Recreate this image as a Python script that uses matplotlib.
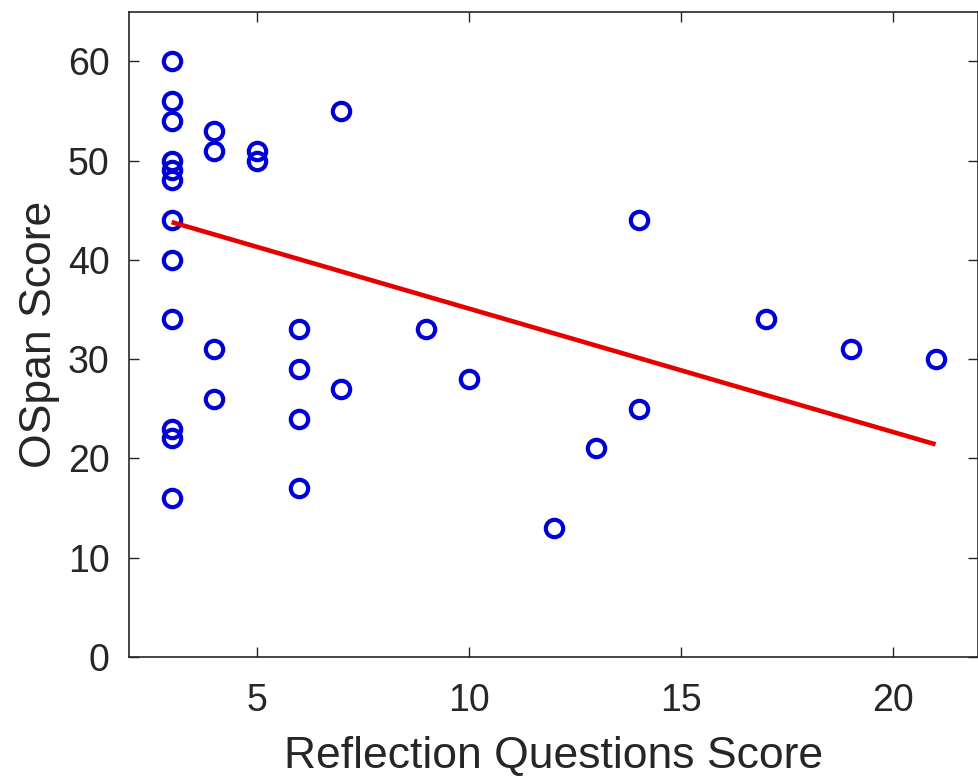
import matplotlib
matplotlib.use("Agg")
import matplotlib.pyplot as plt

# data
reflection = [3, 3, 3, 3, 3, 3, 3, 3, 3, 3, 3, 3,
              4, 4, 4, 4,
              5, 5,
              6, 6, 6, 6,
              7, 7,
              9, 10, 12, 13, 14, 14, 17, 19, 21]
ospan = [60, 56, 54, 50, 49, 48, 44, 40, 34, 23, 22, 16,
         53, 51, 31, 26,
         51, 50,
         33, 29, 24, 17,
         55, 27,
         33, 28, 13, 21, 44, 25, 34, 31, 30]
fit_x = [3, 21]
fit_y = [43.8, 21.4]

xticks = [5, 10, 15, 20]
yticks = [0, 10, 20, 30, 40, 50, 60]

plt.rcParams['font.family'] = ['Liberation Sans', 'DejaVu Sans']
axis_col = (0.15, 0.15, 0.15)

fig = plt.figure(figsize=(9.79, 7.8), dpi=100)
ax = fig.add_axes([0.132, 0.158, 0.867, 0.827])

ax.plot(reflection, ospan, 'o', linestyle='none', markersize=12.5,
        markerfacecolor='none', markeredgecolor=(0, 0, 0.85), markeredgewidth=3.0)
ax.plot(fit_x, fit_y, '-', color=(0.9, 0, 0), linewidth=3.3, solid_capstyle='butt')

ax.set_xlim(2, 22)
ax.set_ylim(0, 65)
ax.set_xticks(xticks)
ax.set_yticks(yticks)
ax.tick_params(direction='in', length=7, width=1, colors=axis_col, labelsize=27,
               top=True, right=True)
ax.tick_params(axis='x', pad=19)
ax.tick_params(axis='y', pad=14)
for sp in ax.spines.values():
    sp.set_color(axis_col)
    sp.set_linewidth(1.2)

ax.set_xlabel("Reflection Questions Score", fontsize=32, color=axis_col, labelpad=12)
ax.set_ylabel("OSpan Score", fontsize=32, color=axis_col, labelpad=6)

fig.savefig("out.png", dpi=100)
